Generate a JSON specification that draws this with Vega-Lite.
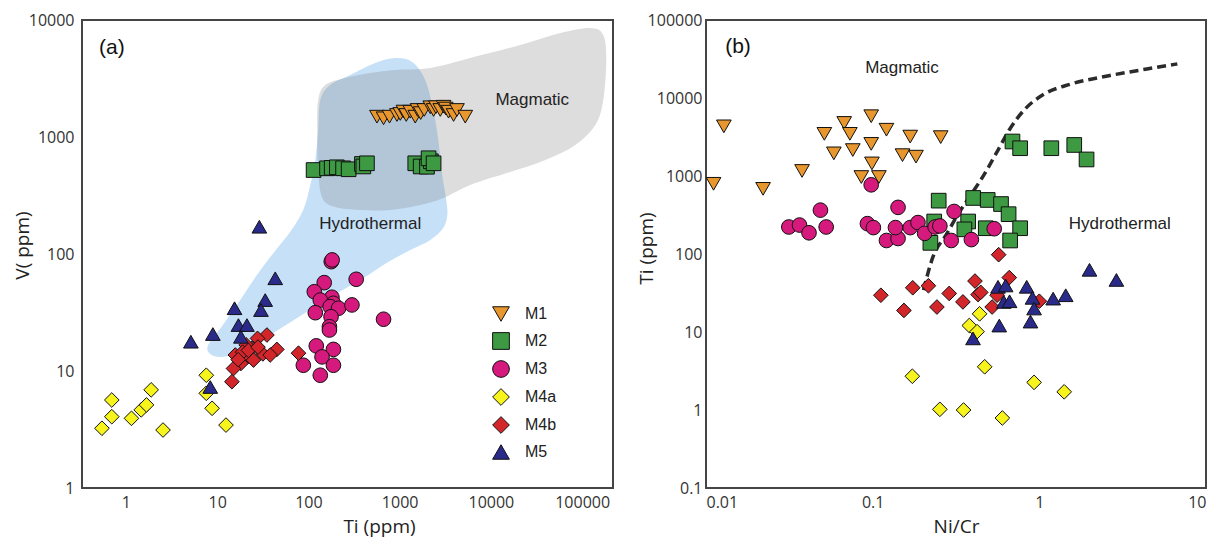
{
  "$schema": "https://vega.github.io/schema/vega-lite/v6.json",
  "background": "white",
  "padding": {"left": 12, "top": 11, "right": 0, "bottom": 0},
  "spacing": 22,
  "config": {
    "view": {"stroke": "#454545", "strokeWidth": 2},
    "font": "Open Sans",
    "axis": {
      "grid": false, "ticks": false, "domain": false,
      "labelFont": "Open Sans", "labelFontSize": 16, "labelColor": "#333333",
      "titleFont": "Open Sans", "titleFontSize": 19, "titleColor": "#222222", "titleFontWeight": "normal"
    },
    "legend": {"symbolStrokeColor": "#111111", "symbolStrokeWidth": 1}
  },
  "resolve": {"scale": {"fill": "independent", "shape": "independent", "stroke": "independent"}},
  "hconcat": [
    {
      "width": 531,
      "height": 468,
      "layer": [
        {
          "data": {"values": [
            {"i":1,"Ti":135,"V":2070},{"i":2,"Ti":173,"V":2780},{"i":3,"Ti":287,"V":3390},{"i":4,"Ti":540,"V":4290},
            {"i":5,"Ti":895,"V":4730},{"i":6,"Ti":1375,"V":4380},{"i":7,"Ti":1909,"V":3070},{"i":8,"Ti":2338,"V":1700},
            {"i":9,"Ti":2650,"V":943},{"i":10,"Ti":2930,"V":473},{"i":11,"Ti":3245,"V":290},{"i":12,"Ti":3327,"V":215},
            {"i":13,"Ti":3010,"V":167},{"i":14,"Ti":2168,"V":132},{"i":15,"Ti":1309,"V":108},{"i":16,"Ti":750,"V":85.5},
            {"i":17,"Ti":370,"V":60},{"i":18,"Ti":173,"V":42.9},{"i":19,"Ti":81.3,"V":29.5},{"i":20,"Ti":38.1,"V":20.3},
            {"i":21,"Ti":17.9,"V":14.5},{"i":22,"Ti":11.35,"V":13.2},{"i":23,"Ti":8.38,"V":14.0},{"i":24,"Ti":7.96,"V":16.7},
            {"i":25,"Ti":11.35,"V":24.3},{"i":26,"Ti":17.9,"V":40.4},{"i":27,"Ti":26.8,"V":64.9},{"i":28,"Ti":42.2,"V":104},
            {"i":29,"Ti":63.1,"V":154},{"i":30,"Ti":87.7,"V":238},{"i":31,"Ti":105,"V":389},{"i":32,"Ti":119,"V":636},
            {"i":33,"Ti":128,"V":1148}
          ]},
          "mark": {"type": "line", "interpolate": "cardinal-closed", "fill": "#c5e0f7", "strokeWidth": 0, "clip": true},
          "encoding": {
            "x": {"field": "Ti", "type": "quantitative", "scale": {"type": "log", "domain": [0.33, 218000], "nice": false},
                  "axis": {"values": [1,10,100,1000,10000,100000], "format": "d", "title": "Ti (ppm)", "labelPadding": 6,
                           "titleX": 297, "titleY": 38, "titleBaseline": "middle", "titleAlign": "center"}},
            "y": {"field": "V", "type": "quantitative", "scale": {"type": "log", "domain": [1, 10000], "nice": false},
                  "axis": {"values": [1,10,100,1000,10000], "format": "d", "title": "V( ppm)", "labelPadding": 8,
                           "titleX": -60, "titleY": 225, "titleAngle": -90, "titleBaseline": "middle", "titleAlign": "center"}},
            "order": {"field": "i", "type": "quantitative"}
          }
        },
        {
          "data": {"values": [
            {"i":1,"Ti":128,"V":2070},{"i":2,"Ti":153,"V":2780},{"i":3,"Ti":253,"V":3190},{"i":4,"Ti":476,"V":3520},
            {"i":5,"Ti":895,"V":3740},{"i":6,"Ti":2168,"V":3890},{"i":7,"Ti":5940,"V":4730},{"i":8,"Ti":21000,"V":6110},
            {"i":9,"Ti":57700,"V":7740},{"i":10,"Ti":123000,"V":8550},{"i":11,"Ti":170600,"V":7450},{"i":12,"Ti":184000,"V":4550},
            {"i":13,"Ti":170600,"V":2070},{"i":14,"Ti":139600,"V":1267},{"i":15,"Ti":84200,"V":855},{"i":16,"Ti":39500,"V":636},
            {"i":17,"Ti":16300,"V":502},{"i":18,"Ti":5940,"V":389},{"i":19,"Ti":3010,"V":301},{"i":20,"Ti":1683,"V":262},
            {"i":21,"Ti":789,"V":238},{"i":22,"Ti":370,"V":238},{"i":23,"Ti":197,"V":252},{"i":24,"Ti":142,"V":301},
            {"i":25,"Ti":128,"V":522},{"i":26,"Ti":125,"V":1148}
          ]},
          "mark": {"type": "line", "interpolate": "cardinal-closed", "fill": "#808080", "fillOpacity": 0.27, "strokeWidth": 0, "clip": true},
          "encoding": {
            "x": {"field": "Ti", "type": "quantitative"},
            "y": {"field": "V", "type": "quantitative"},
            "order": {"field": "i", "type": "quantitative"}
          }
        },
        {
          "data": {"values": [{"Ti": 0.70, "V": 5750, "label": "(a)"}]},
          "mark": {"type": "text", "font": "Liberation Sans", "fontSize": 21, "color": "#111111", "align": "center", "baseline": "middle"},
          "encoding": {
            "x": {"field": "Ti", "type": "quantitative"},
            "y": {"field": "V", "type": "quantitative"},
            "text": {"field": "label"}
          }
        },
        {
          "data": {"values": [
            {"Ti": 28400, "V": 2070, "label": "Magmatic"},
            {"Ti": 476, "V": 180, "label": "Hydrothermal"}
          ]},
          "mark": {"type": "text", "font": "Liberation Sans", "fontSize": 17, "color": "#222222", "align": "center", "baseline": "middle"},
          "encoding": {
            "x": {"field": "Ti", "type": "quantitative"},
            "y": {"field": "V", "type": "quantitative"},
            "text": {"field": "label"}
          }
        },
        {
          "data": {"values": [
            {"g":"M1","Ti":564,"V":1492},{"g":"M1","Ti":666,"V":1445},{"g":"M1","Ti":775,"V":1492},{"g":"M1","Ti":934,"V":1542},
            {"g":"M1","Ti":1016,"V":1574},{"g":"M1","Ti":1100,"V":1650},{"g":"M1","Ti":1181,"V":1542},{"g":"M1","Ti":1306,"V":1645},
            {"g":"M1","Ti":1483,"V":1492},{"g":"M1","Ti":1571,"V":1702},{"g":"M1","Ti":1700,"V":1600},{"g":"M1","Ti":1860,"V":1702},
            {"g":"M1","Ti":2166,"V":1795},{"g":"M1","Ti":2355,"V":1702},{"g":"M1","Ti":2500,"V":1800},{"g":"M1","Ti":2788,"V":1702},
            {"g":"M1","Ti":3030,"V":1815},{"g":"M1","Ti":3200,"V":1750},{"g":"M1","Ti":3436,"V":1645},{"g":"M1","Ti":3900,"V":1542},
            {"g":"M1","Ti":4250,"V":1702},{"g":"M1","Ti":5240,"V":1492},
            {"g":"M2","Ti":114,"V":522},{"g":"M2","Ti":160,"V":540},{"g":"M2","Ti":180,"V":545},{"g":"M2","Ti":205,"V":551},
            {"g":"M2","Ti":240,"V":540},{"g":"M2","Ti":276,"V":530},{"g":"M2","Ti":386,"V":588},{"g":"M2","Ti":400,"V":560},
            {"g":"M2","Ti":438,"V":596},{"g":"M2","Ti":1483,"V":596},{"g":"M2","Ti":1700,"V":560},{"g":"M2","Ti":1993,"V":557},
            {"g":"M2","Ti":2200,"V":620},{"g":"M2","Ti":2075,"V":658},{"g":"M2","Ti":2355,"V":596},
            {"g":"M3","Ti":178,"V":86},{"g":"M3","Ti":182,"V":89},{"g":"M3","Ti":149,"V":56.9},{"g":"M3","Ti":334,"V":60.8},
            {"g":"M3","Ti":116,"V":47.6},{"g":"M3","Ti":181,"V":42.7},{"g":"M3","Ti":135,"V":40.4},{"g":"M3","Ti":188,"V":37.9},
            {"g":"M3","Ti":173,"V":35.5},{"g":"M3","Ti":214,"V":34.4},{"g":"M3","Ti":300,"V":36.7},{"g":"M3","Ti":119,"V":31.5},
            {"g":"M3","Ti":177,"V":29.1},{"g":"M3","Ti":666,"V":27.7},{"g":"M3","Ti":170,"V":23.9},{"g":"M3","Ti":170,"V":22.4},
            {"g":"M3","Ti":122,"V":16.4},{"g":"M3","Ti":188,"V":15.3},{"g":"M3","Ti":141,"V":13.2},{"g":"M3","Ti":88,"V":11.2},
            {"g":"M3","Ti":188,"V":11.2},{"g":"M3","Ti":135,"V":9.2},
            {"g":"M4a","Ti":0.546,"V":3.24},{"g":"M4a","Ti":0.70,"V":5.65},{"g":"M4a","Ti":0.70,"V":4.07},{"g":"M4a","Ti":1.15,"V":3.94},
            {"g":"M4a","Ti":1.47,"V":4.65},{"g":"M4a","Ti":1.68,"V":5.13},{"g":"M4a","Ti":1.89,"V":6.9},{"g":"M4a","Ti":2.55,"V":3.13},
            {"g":"M4a","Ti":7.6,"V":9.2},{"g":"M4a","Ti":7.6,"V":6.45},{"g":"M4a","Ti":8.8,"V":4.8},{"g":"M4a","Ti":12.5,"V":3.45},
            {"g":"M4b","Ti":35.1,"V":20.3},{"g":"M4b","Ti":27.7,"V":19.0},{"g":"M4b","Ti":45.1,"V":15.3},{"g":"M4b","Ti":31.7,"V":14.0},
            {"g":"M4b","Ti":38.1,"V":13.7},{"g":"M4b","Ti":24.0,"V":15.6},{"g":"M4b","Ti":20.8,"V":16.7},{"g":"M4b","Ti":15.8,"V":13.7},
            {"g":"M4b","Ti":21.5,"V":13.2},{"g":"M4b","Ti":18.2,"V":11.6},{"g":"M4b","Ti":15.1,"V":10.5},{"g":"M4b","Ti":14.5,"V":8.1},
            {"g":"M4b","Ti":77.9,"V":14.2},{"g":"M4b","Ti":25.0,"V":12.4},{"g":"M4b","Ti":19,"V":14.5},{"g":"M4b","Ti":22,"V":15},
            {"g":"M4b","Ti":17,"V":12.5},{"g":"M4b","Ti":28,"V":16},
            {"g":"M5","Ti":29,"V":171},{"g":"M5","Ti":43.3,"V":62},{"g":"M5","Ti":33.6,"V":40.4},{"g":"M5","Ti":30.2,"V":33.2},
            {"g":"M5","Ti":15.5,"V":34.4},{"g":"M5","Ti":8.97,"V":20.7},{"g":"M5","Ti":5.15,"V":17.8},{"g":"M5","Ti":17.1,"V":24.7},
            {"g":"M5","Ti":21.2,"V":24.7},{"g":"M5","Ti":18.2,"V":19.6},{"g":"M5","Ti":8.4,"V":7.3}
          ]},
          "mark": {"type": "point", "filled": true, "strokeWidth": 1, "size": 215, "opacity": 1},
          "encoding": {
            "x": {"field": "Ti", "type": "quantitative"},
            "y": {"field": "V", "type": "quantitative"},
            "fill": {"field": "g", "type": "nominal",
                     "scale": {"domain": ["M1","M2","M3","M4a","M4b","M5"], "range": ["#e8962e","#3d9a42","#d6197c","#f7f31d","#d3262a","#2a2a8a"]},
                     "legend": {"title": null, "orient": "none", "legendX": 410, "legendY": 285, "padding": 0,
                                "labelFont": "Liberation Sans", "labelFontSize": 16, "labelColor": "#222222", "labelOffset": 15,
                                "symbolSize": 280, "symbolStrokeWidth": 1, "rowPadding": 6, "symbolOpacity": 1}},
            "shape": {"field": "g", "type": "nominal",
                      "scale": {"domain": ["M1","M2","M3","M4a","M4b","M5"], "range": ["triangle-down","square","circle","diamond","diamond","triangle-up"]},
                      "legend": {"title": null, "orient": "none", "legendX": 410, "legendY": 285, "padding": 0,
                                 "labelFont": "Liberation Sans", "labelFontSize": 16, "labelColor": "#222222", "labelOffset": 15,
                                 "symbolSize": 280, "symbolStrokeWidth": 1, "rowPadding": 6, "symbolOpacity": 1}},
            "stroke": {"field": "g", "type": "nominal",
                       "scale": {"domain": ["M1","M2","M3","M4a","M4b","M5"], "range": ["#111111","#111111","#111111","#111111","#111111","#111111"]},
                       "legend": {"title": null, "orient": "none", "legendX": 410, "legendY": 285, "padding": 0,
                                  "labelFont": "Liberation Sans", "labelFontSize": 16, "labelColor": "#222222", "labelOffset": 15,
                                  "symbolSize": 280, "symbolStrokeWidth": 1, "rowPadding": 6, "symbolOpacity": 1}}
          }
        }
      ]
    },
    {
      "width": 500,
      "height": 468,
      "layer": [
        {
          "data": {"values": [
            {"NiCr":0.2018,"Ti":34.4},{"NiCr":0.2305,"Ti":93},{"NiCr":0.277,"Ti":178},{"NiCr":0.325,"Ti":324},
            {"NiCr":0.38,"Ti":534},{"NiCr":0.47,"Ti":1072},{"NiCr":0.565,"Ti":2150},{"NiCr":0.661,"Ti":3920},
            {"NiCr":0.816,"Ti":7130},{"NiCr":1.065,"Ti":11160},{"NiCr":1.54,"Ti":15050},{"NiCr":2.61,"Ti":19300},
            {"NiCr":4.42,"Ti":23560},{"NiCr":6.73,"Ti":27350}
          ]},
          "mark": {"type": "line", "interpolate": "monotone", "color": "#2b2b2b", "strokeWidth": 3.5, "strokeDash": [9, 5]},
          "encoding": {
            "x": {"field": "NiCr", "type": "quantitative", "scale": {"type": "log", "domain": [0.01, 10], "nice": false},
                  "axis": {"values": [0.01,0.1,1,10], "format": "~g", "title": "Ni/Cr", "labelPadding": 6, "labelFlush": true,
                           "titleY": 38, "titleBaseline": "middle"}},
            "y": {"field": "Ti", "type": "quantitative", "scale": {"type": "log", "domain": [0.1, 100000], "nice": false},
                  "axis": {"values": [0.1,1,10,100,1000,10000,100000], "format": "~g", "title": "Ti (ppm)", "labelPadding": 4,
                           "titleX": -60, "titleY": 228, "titleAngle": -90, "titleBaseline": "middle", "titleAlign": "center"}}
          }
        },
        {
          "data": {"values": [{"NiCr": 0.01556, "Ti": 45100, "label": "(b)"}]},
          "mark": {"type": "text", "font": "Liberation Sans", "fontSize": 21, "color": "#111111", "align": "center", "baseline": "middle"},
          "encoding": {
            "x": {"field": "NiCr", "type": "quantitative"},
            "y": {"field": "Ti", "type": "quantitative"},
            "text": {"field": "label"}
          }
        },
        {
          "data": {"values": [
            {"NiCr": 0.15, "Ti": 24300, "label": "Magmatic"},
            {"NiCr": 3.04, "Ti": 243, "label": "Hydrothermal"}
          ]},
          "mark": {"type": "text", "font": "Liberation Sans", "fontSize": 17, "color": "#222222", "align": "center", "baseline": "middle"},
          "encoding": {
            "x": {"field": "NiCr", "type": "quantitative"},
            "y": {"field": "Ti", "type": "quantitative"},
            "text": {"field": "label"}
          }
        },
        {
          "data": {"values": [
            {"g":"M1","NiCr":0.0111,"Ti":794},{"g":"M1","NiCr":0.0128,"Ti":4330},{"g":"M1","NiCr":0.022,"Ti":684},{"g":"M1","NiCr":0.0377,"Ti":1160},
            {"g":"M1","NiCr":0.0513,"Ti":3470},{"g":"M1","NiCr":0.0585,"Ti":1950},{"g":"M1","NiCr":0.0675,"Ti":4790},{"g":"M1","NiCr":0.073,"Ti":3470},
            {"g":"M1","NiCr":0.076,"Ti":2150},{"g":"M1","NiCr":0.098,"Ti":5840},{"g":"M1","NiCr":0.098,"Ti":2580},{"g":"M1","NiCr":0.099,"Ti":1450},
            {"g":"M1","NiCr":0.0855,"Ti":970},{"g":"M1","NiCr":0.109,"Ti":970},{"g":"M1","NiCr":0.121,"Ti":3920},{"g":"M1","NiCr":0.151,"Ti":1850},
            {"g":"M1","NiCr":0.168,"Ti":3200},{"g":"M1","NiCr":0.182,"Ti":1770},{"g":"M1","NiCr":0.256,"Ti":3150},
            {"g":"M2","NiCr":0.69,"Ti":2770},{"g":"M2","NiCr":0.767,"Ti":2270},{"g":"M2","NiCr":1.18,"Ti":2270},{"g":"M2","NiCr":1.62,"Ti":2500},
            {"g":"M2","NiCr":1.92,"Ti":1630},{"g":"M2","NiCr":0.249,"Ti":483},{"g":"M2","NiCr":0.401,"Ti":523},{"g":"M2","NiCr":0.49,"Ti":493},
            {"g":"M2","NiCr":0.589,"Ti":437},{"g":"M2","NiCr":0.654,"Ti":324},{"g":"M2","NiCr":0.767,"Ti":214},{"g":"M2","NiCr":0.668,"Ti":149},
            {"g":"M2","NiCr":0.374,"Ti":261},{"g":"M2","NiCr":0.355,"Ti":207},{"g":"M2","NiCr":0.477,"Ti":214},{"g":"M2","NiCr":0.234,"Ti":261},
            {"g":"M2","NiCr":0.222,"Ti":139},
            {"g":"M3","NiCr":0.0314,"Ti":222},{"g":"M3","NiCr":0.0364,"Ti":235},{"g":"M3","NiCr":0.0415,"Ti":187},{"g":"M3","NiCr":0.0486,"Ti":365},
            {"g":"M3","NiCr":0.0526,"Ti":222},{"g":"M3","NiCr":0.093,"Ti":245},{"g":"M3","NiCr":0.101,"Ti":218},{"g":"M3","NiCr":0.098,"Ti":771},
            {"g":"M3","NiCr":0.121,"Ti":149},{"g":"M3","NiCr":0.142,"Ti":158},{"g":"M3","NiCr":0.137,"Ti":218},{"g":"M3","NiCr":0.142,"Ti":396},
            {"g":"M3","NiCr":0.168,"Ti":218},{"g":"M3","NiCr":0.187,"Ti":253},{"g":"M3","NiCr":0.205,"Ti":184},{"g":"M3","NiCr":0.237,"Ti":222},
            {"g":"M3","NiCr":0.253,"Ti":229},{"g":"M3","NiCr":0.308,"Ti":351},{"g":"M3","NiCr":0.296,"Ti":149},{"g":"M3","NiCr":0.391,"Ti":153},
            {"g":"M3","NiCr":0.536,"Ti":211},
            {"g":"M4a","NiCr":0.173,"Ti":2.71},{"g":"M4a","NiCr":0.253,"Ti":1.02},{"g":"M4a","NiCr":0.351,"Ti":1.0},{"g":"M4a","NiCr":0.60,"Ti":0.79},
            {"g":"M4a","NiCr":0.47,"Ti":3.58},{"g":"M4a","NiCr":0.38,"Ti":12.1},{"g":"M4a","NiCr":0.423,"Ti":10.1},{"g":"M4a","NiCr":0.438,"Ti":17.1},
            {"g":"M4a","NiCr":0.93,"Ti":2.26},{"g":"M4a","NiCr":1.41,"Ti":1.71},
            {"g":"M4b","NiCr":0.57,"Ti":98},{"g":"M4b","NiCr":0.112,"Ti":29.6},{"g":"M4b","NiCr":0.154,"Ti":18.9},{"g":"M4b","NiCr":0.174,"Ti":36.9},
            {"g":"M4b","NiCr":0.216,"Ti":39.2},{"g":"M4b","NiCr":0.243,"Ti":20.9},{"g":"M4b","NiCr":0.288,"Ti":31.2},{"g":"M4b","NiCr":0.348,"Ti":24.3},
            {"g":"M4b","NiCr":0.411,"Ti":45},{"g":"M4b","NiCr":0.429,"Ti":30.2},{"g":"M4b","NiCr":0.445,"Ti":32.2},{"g":"M4b","NiCr":0.521,"Ti":20.9},
            {"g":"M4b","NiCr":0.558,"Ti":29.6},{"g":"M4b","NiCr":0.66,"Ti":49.8},{"g":"M4b","NiCr":1.0,"Ti":24.8},
            {"g":"M5","NiCr":2.0,"Ti":62.7},{"g":"M5","NiCr":2.9,"Ti":46.5},{"g":"M5","NiCr":1.44,"Ti":29.6},{"g":"M5","NiCr":1.21,"Ti":26.8},
            {"g":"M5","NiCr":0.84,"Ti":38},{"g":"M5","NiCr":0.91,"Ti":27.4},{"g":"M5","NiCr":0.93,"Ti":20},{"g":"M5","NiCr":0.885,"Ti":13.6},
            {"g":"M5","NiCr":0.565,"Ti":38},{"g":"M5","NiCr":0.628,"Ti":39.5},{"g":"M5","NiCr":0.612,"Ti":24.3},{"g":"M5","NiCr":0.663,"Ti":24.8},
            {"g":"M5","NiCr":0.575,"Ti":12.1},{"g":"M5","NiCr":0.40,"Ti":8.28}
          ]},
          "mark": {"type": "point", "filled": true, "stroke": "#111111", "strokeWidth": 1, "size": 215, "opacity": 1},
          "encoding": {
            "x": {"field": "NiCr", "type": "quantitative"},
            "y": {"field": "Ti", "type": "quantitative"},
            "fill": {"field": "g", "type": "nominal",
                     "scale": {"domain": ["M1","M2","M3","M4a","M4b","M5"], "range": ["#e8962e","#3d9a42","#d6197c","#f7f31d","#d3262a","#2a2a8a"]},
                     "legend": null},
            "shape": {"field": "g", "type": "nominal",
                      "scale": {"domain": ["M1","M2","M3","M4a","M4b","M5"], "range": ["triangle-down","square","circle","diamond","diamond","triangle-up"]},
                      "legend": null}
          }
        }
      ]
    }
  ]
}
